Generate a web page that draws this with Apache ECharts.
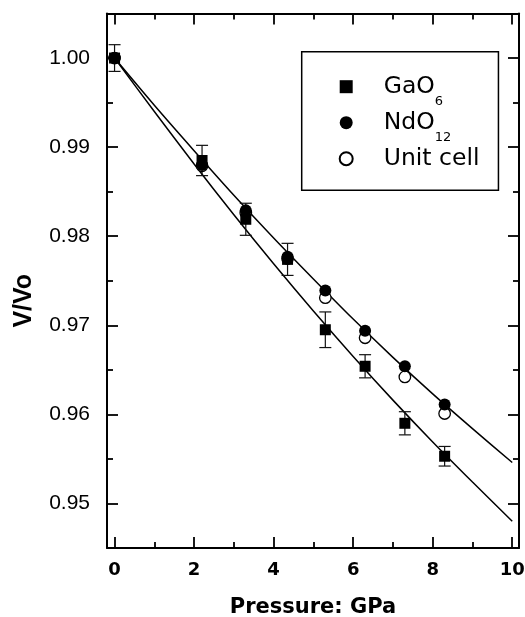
<!DOCTYPE html>
<html><head><meta charset="utf-8">
<script src="https://cdn.jsdelivr.net/npm/echarts@6/dist/echarts.min.js"></script>
<style>html,body{margin:0;padding:0;background:#fff}#c{width:525px;height:617px}</style>
</head><body><div id="c"></div>
<script>
// ---- data ----
const pressure = [0, 2.2, 3.3, 4.35, 5.3, 6.3, 7.3, 8.3];
const gaO6 = [1.0000, 0.9885, 0.9819, 0.9774, 0.9695, 0.9654, 0.9590, 0.9553];
const gaO6Err = [0.0015, 0.0017, 0.0018, 0.0018, 0.0020, 0.0013, 0.0013, 0.0011];
const ndO12 = [1.0000, 0.9880, 0.9829, 0.9777, 0.9739, 0.9694, 0.9654, 0.9611];
const unitCell = [1.0000, 0.9879, 0.9826, 0.9775, 0.9731, 0.9686, 0.9642, 0.9601];
const fitP = [0, 1, 2, 3, 4, 5, 6, 7, 8, 9, 10];
const fitUpper = [1.0000, 0.9947, 0.9896, 0.9846, 0.9798, 0.9752, 0.9707, 0.9664, 0.9623, 0.9584, 0.9546];
const fitLower = [1.0000, 0.9940, 0.9881, 0.9824, 0.9769, 0.9716, 0.9665, 0.9616, 0.9569, 0.9524, 0.9480];
const xMajorTicks = [0, 2, 4, 6, 8, 10];
const xMinorTicks = [1, 3, 5, 7, 9];
const yMajorTicks = [0.95, 0.96, 0.97, 0.98, 0.99, 1.00];
const yMinorTicks = [0.955, 0.965, 0.975, 0.985, 0.995];
const seriesNames = ['GaO6', 'NdO12', 'Unit cell'];

const X_MIN = -0.19, X_MAX = 10.17, Y_MIN = 0.945, Y_MAX = 1.005;
const chart = echarts.init(document.getElementById('c'), null, {renderer: 'canvas'});

function xAxisDef(pos, ticks, len, withLine, withLabel) {
  return {
    type: 'value', position: pos, min: X_MIN, max: X_MAX, splitLine: {show: false},
    axisLine: {show: withLine, onZero: false, lineStyle: {color: '#000', width: 2}},
    axisTick: {show: true, inside: true, length: len, customValues: ticks, lineStyle: {color: '#000', width: 1.8}},
    axisLabel: withLabel ? {show: true, customValues: ticks, margin: 13, color: '#000',
      fontFamily: 'DejaVu Sans', fontWeight: 'bold', fontSize: 18} : {show: false},
    name: withLabel ? 'Pressure: GPa' : '', nameLocation: 'middle', nameGap: 49.5,
    nameTextStyle: {color: '#000', fontFamily: 'DejaVu Sans', fontWeight: 'bold', fontSize: 21}
  };
}
function yAxisDef(pos, ticks, len, withLine, withLabel) {
  return {
    type: 'value', position: pos, min: Y_MIN, max: Y_MAX, splitLine: {show: false},
    axisLine: {show: withLine, onZero: false, lineStyle: {color: '#000', width: 2}},
    axisTick: {show: true, inside: true, length: len, customValues: ticks, lineStyle: {color: '#000', width: 1.8}},
    axisLabel: withLabel ? {show: true, customValues: ticks, margin: 17, color: '#000',
      fontFamily: 'Liberation Sans', fontSize: 21, formatter: v => v.toFixed(2)} : {show: false},
    name: withLabel ? 'V/Vo' : '', nameLocation: 'middle', nameRotate: 90, nameGap: 70,
    nameTextStyle: {color: '#000', fontFamily: 'Liberation Sans', fontWeight: 'bold', fontSize: 25, padding: [0, 40, 0, 0]}
  };
}

const option = {
  backgroundColor: '#fff',
  animation: false,
  grid: {left: 107, top: 13.5, width: 412, height: 534.5, outerBoundsMode: 'none', containLabel: false},
  xAxis: [
    xAxisDef('bottom', xMajorTicks, 11, true, true),
    xAxisDef('bottom', xMinorTicks, 6, false, false),
    xAxisDef('top', xMajorTicks, 11, true, false),
    xAxisDef('top', xMinorTicks, 6, false, false)
  ],
  yAxis: [
    yAxisDef('left', yMajorTicks, 11, true, true),
    yAxisDef('left', yMinorTicks, 6, false, false),
    yAxisDef('right', yMajorTicks, 11, true, false),
    yAxisDef('right', yMinorTicks, 6, false, false)
  ],
  legend: {
    orient: 'vertical', left: 301.7, top: 51.7,
    data: seriesNames, selectedMode: false,
    itemWidth: 13, itemHeight: 13, itemGap: 3,
    padding: [23, 19, 19.5, 37],
    borderColor: '#000', borderWidth: 1.5,
    formatter: function (name) {
      if (name === 'GaO6') return '{a|GaO}{s|6}';
      if (name === 'NdO12') return '{a|NdO}{s|12}';
      return '{a|' + name + '}';
    },
    textStyle: {
      padding: [0, 0, 0, 26],
      rich: {
        a: {fontFamily: 'DejaVu Sans', fontSize: 23.5, lineHeight: 42, color: '#000'},
        s: {fontFamily: 'DejaVu Sans', fontSize: 13, lineHeight: 13, verticalAlign: 'bottom', color: '#000'}
      }
    }
  },
  series: [
    {
      name: 'fitUpper', type: 'line', smooth: 0.3, showSymbol: false, symbol: 'none',
      data: fitP.map((p, i) => [p, fitUpper[i]]),
      lineStyle: {color: '#000', width: 1.5}, z: 1
    },
    {
      name: 'fitLower', type: 'line', smooth: 0.3, showSymbol: false, symbol: 'none',
      data: fitP.map((p, i) => [p, fitLower[i]]),
      lineStyle: {color: '#000', width: 1.5}, z: 1
    },
    {
      name: 'errGaO6', type: 'custom', z: 2,
      data: pressure.map((p, i) => [p, gaO6[i], gaO6Err[i]]),
      encode: {x: 0, y: 1},
      renderItem: function (params, api) {
        const x = api.value(0), y = api.value(1), e = api.value(2);
        const t = api.coord([x, y + e]), b = api.coord([x, y - e]);
        const hw = 6;
        const st = {stroke: '#111', lineWidth: 1.2, fill: null};
        return {type: 'group', children: [
          {type: 'line', shape: {x1: t[0], y1: t[1], x2: b[0], y2: b[1]}, style: st},
          {type: 'line', shape: {x1: t[0] - hw, y1: t[1], x2: t[0] + hw, y2: t[1]}, style: st},
          {type: 'line', shape: {x1: b[0] - hw, y1: b[1], x2: b[0] + hw, y2: b[1]}, style: st}
        ]};
      }
    },
    {
      name: 'Unit cell', type: 'scatter', symbol: 'circle', symbolSize: 11.5, z: 3,
      data: pressure.map((p, i) => [p, unitCell[i]]),
      itemStyle: {color: '#fff', borderColor: '#000', borderWidth: 1.3, opacity: 1}
    },
    {
      name: 'GaO6', type: 'scatter', symbol: 'rect', symbolSize: 11, z: 4,
      data: pressure.map((p, i) => [p, gaO6[i]]),
      itemStyle: {color: '#000', opacity: 1}
    },
    {
      name: 'NdO12', type: 'scatter', symbol: 'circle', symbolSize: 12, z: 5,
      data: pressure.map((p, i) => [p, ndO12[i]]),
      itemStyle: {color: '#000', opacity: 1}
    }
  ]
};
chart.setOption(option);
</script></body></html>
